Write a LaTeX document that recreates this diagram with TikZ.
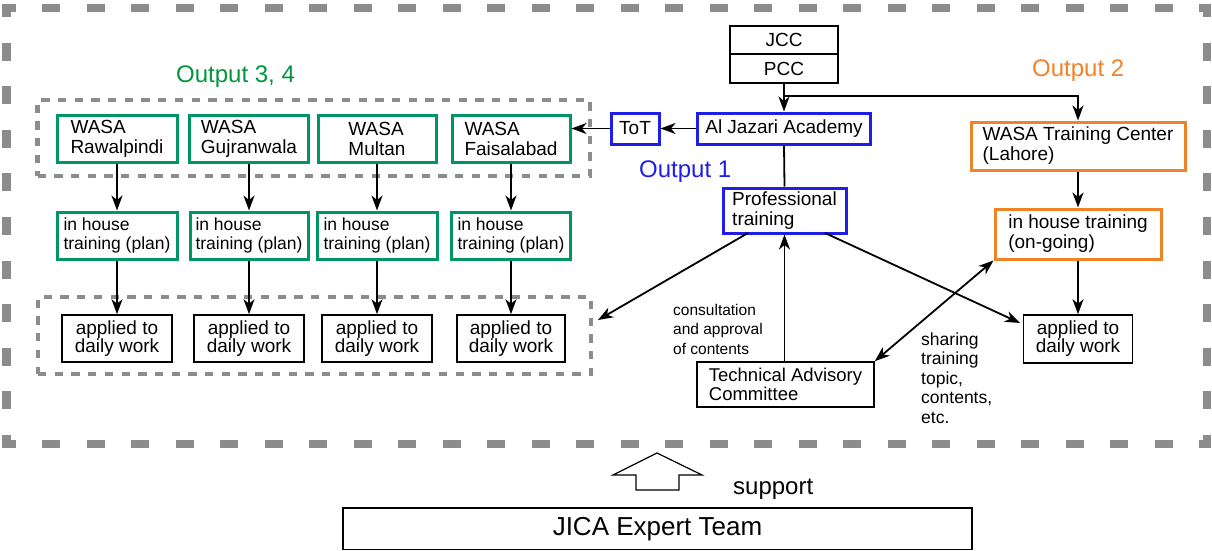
\documentclass[tikz,border=0pt]{standalone}
\usepackage{fontspec}
\setmainfont{Liberation Sans}
\usetikzlibrary{arrows.meta}
\definecolor{dashgray}{HTML}{8C8C8C}
\definecolor{boxgreen}{HTML}{009664}
\definecolor{txtgreen}{HTML}{00963C}
\definecolor{boxblue}{HTML}{1E1EE6}
\definecolor{boxorange}{HTML}{F08228}
\begin{document}
\begin{tikzpicture}[x=1pt,y=-1pt,
  outerdash/.style={draw=dashgray, line width=8.5pt},
  innerdash/.style={draw=dashgray, line width=4.5pt, dash pattern=on 8.3pt off 8.4pt, inner sep=0pt},
  bx/.style={draw, line width=1.6pt, inner sep=0pt, align=center},
  gbx/.style={draw=boxgreen, line width=3pt, inner sep=0pt, align=left},
  bbx/.style={draw=boxblue, line width=3pt, inner sep=0pt, align=left},
  obx/.style={draw=boxorange, line width=3pt, inner sep=0pt, align=left},
  f19/.style={font=\fontsize{19}{20}\selectfont},
  f18/.style={font=\fontsize{17.5}{18.3}\selectfont},
  fapp/.style={font=\fontsize{19}{18}\selectfont},
  arr/.style={line width=1.8pt, -{Stealth[length=15pt,width=11pt,inset=4.5pt]}},
  darr/.style={line width=1.8pt, {Stealth[length=15pt,width=11pt,inset=4.5pt]}-{Stealth[length=15pt,width=11pt,inset=4.5pt]}},
  ln/.style={line width=1.8pt}
]
\useasboundingbox (0,0) rectangle (1212,551);
% outer dashed frame
\draw[outerdash, dash pattern=on 18pt off 26.5pt, dash phase=4.75pt] (2.25,8) -- (1211.25,8);
\draw[outerdash, dash pattern=on 18pt off 26.5pt, dash phase=4.75pt] (2.25,444) -- (1211.25,444);
\draw[outerdash, dash pattern=on 18pt off 25.6pt, dash phase=9pt] (6.5,8) -- (6.5,444);
\draw[outerdash, dash pattern=on 18pt off 25.6pt, dash phase=9pt] (1207,8) -- (1207,444);

% inner dashed groups
\node[innerdash, minimum width=552.5pt, minimum height=76pt] (g1) at (313.75,138) {};
\node[innerdash, minimum width=553pt, minimum height=77pt] (g2) at (314.5,335.5) {};

% output labels
\node[anchor=base west, inner sep=0pt, text=txtgreen, font=\fontsize{24}{24}\selectfont] (o34) at (176,82) {Output 3, 4};
\node[anchor=base west, inner sep=0pt, text=boxorange, font=\fontsize{24}{24}\selectfont] (o2) at (1032,76) {Output 2};
\node[anchor=base west, inner sep=0pt, text=boxblue, font=\fontsize{24}{24}\selectfont] (o1) at (639,177) {Output 1};

% WASA row
\node[gbx, f19, minimum width=120pt, minimum height=47pt] (w1) at (117,138.5) {WASA\\Rawalpindi};
\node[gbx, f19, minimum width=119pt, minimum height=47pt] (w2) at (249,138.5) {WASA\\Gujranwala};
\node[gbx, f19, minimum width=118pt, minimum height=47pt] (w3) at (377,138.5) {WASA\\Multan};
\node[gbx, f19, minimum width=118pt, minimum height=47pt] (w4) at (511,138.5) {WASA\\Faisalabad};

% in house row
\node[gbx, f18, minimum width=120pt, minimum height=47pt] (h1) at (117,235.5) {in house\\training (plan)};
\node[gbx, f18, minimum width=118pt, minimum height=47pt] (h2) at (249,235.5) {in house\\training (plan)};
\node[gbx, f18, minimum width=120pt, minimum height=47pt] (h3) at (377,235.5) {in house\\training (plan)};
\node[gbx, f18, minimum width=119pt, minimum height=47pt] (h4) at (511,235.5) {in house\\training (plan)};

% applied row
\node[bx, fapp, minimum width=110pt, minimum height=47pt] (a1) at (117,338.5) {applied to\\daily work};
\node[bx, fapp, minimum width=110pt, minimum height=47pt] (a2) at (249,338.5) {applied to\\daily work};
\node[bx, fapp, minimum width=110pt, minimum height=47pt] (a3) at (377,338.5) {applied to\\daily work};
\node[bx, fapp, minimum width=108pt, minimum height=47pt] (a4) at (511,338.5) {applied to\\daily work};

\foreach \i in {1,2,3,4}{
  \draw[arr] (w\i.south) -- (h\i.north);
  \draw[arr] (h\i.south) -- (a\i.north);
}

% JCC / PCC
\node[bx, f19, minimum width=108pt, minimum height=28pt] (jcc) at (784,40) {JCC};
\node[bx, f19, minimum width=108pt, minimum height=29pt] (pcc) at (784,68.5) {PCC};

% Output 1
\node[bbx, f19, align=center, minimum width=173pt, minimum height=31pt] (alj) at (784,128.5) {Al Jazari Academy};
\node[bbx, f19, align=center, minimum width=48pt, minimum height=31pt] (tot) at (635,128.5) {ToT};
\node[bbx, f19, minimum width=123pt, minimum height=45pt] (prof) at (784.5,210.5) {Professional\\training};

% Output 2
\node[obx, f19, minimum width=214pt, minimum height=48pt] (lah) at (1078,146) {WASA Training Center\\(Lahore)};
\node[obx, f19, minimum width=166pt, minimum height=50pt] (ong) at (1078,234) {in house training\\(on-going)};
\node[bx, fapp, minimum width=109pt, minimum height=48pt] (ar) at (1078,339) {applied to\\daily work};

% TAC
\node[bx, align=left, font=\fontsize{18.5}{19.5}\selectfont, minimum width=177pt, minimum height=45pt] (tac) at (785.5,384.5) {Technical Advisory\\Committee};

% JICA
\node[bx, font=\fontsize{26}{26}\selectfont, minimum width=629pt, minimum height=41.5pt] (jica) at (657.5,528.75) {JICA Expert Team};

% connectors
\coordinate (br) at (784,96);
\draw[arr] (pcc.south) -- (alj.north);
\draw[arr] (br) -| (lah.north);
\draw[arr] (alj.west) -- (tot.east);
\draw[arr] (tot.west) -- (tot.west -| w4.east);
\draw[ln] (alj.south) -- (prof.north);
\draw[arr] (lah.south) -- (ong.north);
\draw[arr] (ong.south) -- (ar.north);
\draw[arr] (tac.north -| prof.south) -- (prof.south);
\coordinate (pl) at (748,233);
\coordinate (pr) at (825,233);
\coordinate (g2tip) at (598,320);
\coordinate (artip) at (1020,323);
\draw[arr] (pl) -- (g2tip);
\draw[arr] (pr) -- (artip);
\draw[darr] (tac.north east) -- (ong.south west);

% annotations
\node[anchor=north west, inner sep=0pt, align=left, font=\fontsize{15.5}{19.3}\selectfont] (cons) at (673,304) {consultation\\and approval\\of contents};
\node[anchor=north west, inner sep=0pt, align=left, font=\fontsize{17.5}{19.5}\selectfont] (shar) at (921,332.5) {sharing\\training\\topic,\\contents,\\etc.};

% support arrow
\draw[line width=1.2pt, line join=miter] (657,453) -- (702,475) -- (679,475) -- (679,490) -- (636,490) -- (636,475) -- (613,475) -- cycle;
\node[anchor=base west, inner sep=0pt, font=\fontsize{24}{24}\selectfont] (sup) at (733,494) {support};
\end{tikzpicture}
\end{document}
